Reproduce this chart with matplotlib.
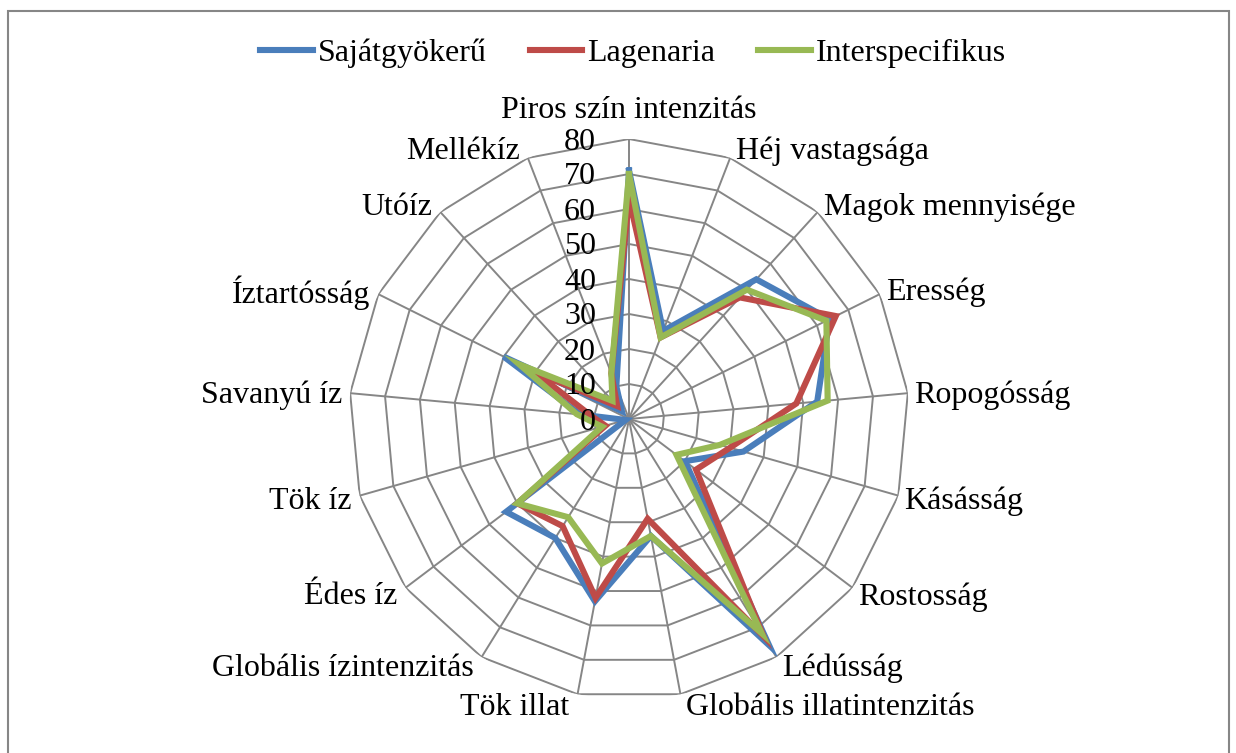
import numpy as np
import matplotlib
matplotlib.use("Agg")
import matplotlib.pyplot as plt
from matplotlib.patches import Rectangle

plt.rcParams["font.family"] = ["Liberation Serif", "DejaVu Serif"]

# Sensory attributes (clockwise from the top) and panel scores per rootstock
categories = [
    "Piros szín intenzitás", "Héj vastagsága", "Magok mennyisége", "Eresség",
    "Ropogósság", "Kásásság", "Rostosság", "Lédússág",
    "Globális illatintenzitás", "Tök illat", "Globális ízintenzitás", "Édes íz",
    "Tök íz", "Savanyú íz", "Íztartósság", "Utóíz", "Mellékíz",
]
sajatgyokeru = [71, 27, 54, 64, 54, 34, 20, 76, 34, 53, 40, 44, 1, 14, 40, 3, 10]
lagenaria = [63, 25, 47, 66, 48, 30, 24, 73, 29, 52, 36, 40, 7, 11, 30, 5, 14]
interspecifikus = [70, 25, 50, 63, 57, 27, 17, 72, 34, 42, 33, 40, 8, 15, 35, 7, 14]
series_names = ["Sajátgyökerű", "Lagenaria", "Interspecifikus"]
series_colors = ["#4A7EBB", "#BE4B48", "#98B954"]
rticks = [0, 10, 20, 30, 40, 50, 60, 70, 80]

n = len(categories)
theta = np.arange(n) * 2 * np.pi / n
theta_closed = np.append(theta, theta[0])

fig = plt.figure(figsize=(12.36, 7.53), dpi=100)
fig.patches.append(Rectangle((8 / 1236, -0.05), 1221 / 1236, 1.05 - 11 / 753,
                             transform=fig.transFigure, fill=False,
                             edgecolor="#868686", linewidth=1.5))

# radius of 80 is 280 px, centred at (629, 419)
cx, cy, R = 629, 419, 280
ax = fig.add_axes([(cx - R) / 1236, (753 - cy - R) / 753, 2 * R / 1236, 2 * R / 753],
                  projection="polar")
ax.set_theta_zero_location("N")
ax.set_theta_direction(-1)
ax.set_ylim(0, 80)
ax.grid(False)
ax.set_xticks([])
ax.set_yticks([])
ax.spines["polar"].set_visible(False)
ax.patch.set_alpha(0)

grid_color = "#868686"
for r in rticks[1:]:
    ax.plot(theta_closed, [r] * (n + 1), color=grid_color, lw=1.4, zorder=1)
for t in theta:
    ax.plot([t, t], [0, 80], color=grid_color, lw=1.4, zorder=1)

for vals, name, col in zip([sajatgyokeru, lagenaria, interspecifikus],
                           series_names, series_colors):
    ax.plot(theta_closed, vals + vals[:1], color=col, lw=4.4, label=name,
            zorder=3, solid_joinstyle="miter")

for r in rticks:
    ax.annotate(str(r), (0, r), textcoords="offset pixels", xytext=(-33, -3),
                ha="right", va="center", fontsize=23, zorder=4)

for t, lab in zip(theta, categories):
    s = np.sin(t)
    if abs(s) < 1e-6:
        ax.annotate(lab, (t, 80), textcoords="offset pixels", xytext=(0, 14),
                    ha="center", va="bottom", fontsize=23)
        continue
    dy = 10 * np.cos(t) - 3
    ax.annotate(lab, (t, 80), textcoords="offset pixels",
                xytext=(6 if s > 0 else -8, dy),
                ha="left" if s > 0 else "right", va="center", fontsize=23)

leg = fig.legend(loc="center", bbox_to_anchor=(633 / 1236, 1 - 53 / 753), ncol=3,
                 frameon=False, fontsize=23, handlelength=1.65,
                 handletextpad=0.15, columnspacing=1.35)

fig.savefig("out.png", dpi=100)
